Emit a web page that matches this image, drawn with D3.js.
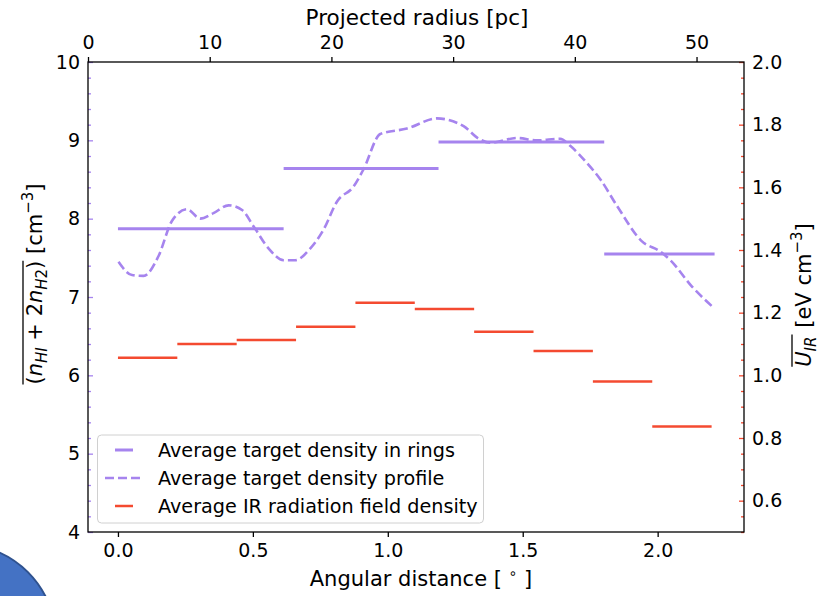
<!DOCTYPE html>
<html>
<head>
<meta charset="utf-8">
<script src="https://cdn.jsdelivr.net/npm/d3@7"></script>
<style>
  body { margin: 0; background: #fff; }
  svg { display: block; font-family: "DejaVu Sans", sans-serif; }
  text { white-space: pre; }
</style>
</head>
<body>
<div id="chart"></div>
<script>
// ring averages of target density (left axis)
const ringEdges = [0, 0.614, 1.188, 1.802, 2.211]
const ringDensity = [7.87, 8.64, 8.98, 7.55]

// IR radiation field per bin (right axis)
const irEdges = [0, 0.22, 0.44, 0.66, 0.88, 1.10, 1.32, 1.54, 1.76, 1.98, 2.20]
const irDensity = [1.056, 1.100, 1.113, 1.155, 1.232, 1.212, 1.139, 1.078, 0.980, 0.837]

// density profile
const profX = [0.002, 0.052, 0.095, 0.150, 0.200, 0.256, 0.305, 0.354, 0.410, 0.460, 0.503, 0.558,
    0.614, 0.657, 0.713, 0.762, 0.812, 0.873, 0.910, 0.972, 1.071, 1.182, 1.281, 1.337, 1.380,
    1.479, 1.553, 1.639, 1.676, 1.738, 1.788, 1.850, 1.942, 2.010, 2.047, 2.128, 2.202]
const profY = [7.45, 7.28, 7.27, 7.52, 7.97, 8.12, 8.00, 8.07, 8.17, 8.11, 7.90, 7.62,
    7.47, 7.47, 7.62, 7.86, 8.22, 8.41, 8.63, 9.08, 9.15, 9.28, 9.18, 9.02, 8.97,
    9.03, 9.00, 9.02, 8.93, 8.71, 8.50, 8.16, 7.71, 7.58, 7.47, 7.13, 6.88]

const xTicks = [0, 0.5, 1.0, 1.5, 2.0]
const pcTicks = [0, 10, 20, 30, 40, 50]
const leftTicks = [4, 5, 6, 7, 8, 9, 10]
const rightTicks = [0.6, 0.8, 1.0, 1.2, 1.4, 1.6, 1.8, 2.0]

const legendLabels = ['Average target density in rings', 'Average target density profile', 'Average IR radiation field density']

const W = 822, H = 596
const L = 88, R = 744, T = 62, B = 532
const purple = '#a684ee'
const red = '#f44a30'
const fs = 19
const titleFs = 21

const svg = d3.select('#chart').append('svg')
    .attr('width', W)
    .attr('height', H)

// blue slide shape peeking in at bottom-left
svg.append('circle')
    .attr('cx', -40).attr('cy', 640).attr('r', 96)
    .attr('fill', '#4472c4')
    .attr('stroke', '#2f528f')
    .attr('stroke-width', 2)

const x = d3.scaleLinear().domain([-0.111, 2.32]).range([L, R])
const xTop = d3.scaleLinear().domain([0, 53.9]).range([L, R])
const yL = d3.scaleLinear().domain([4, 10]).range([B, T])
const yR = d3.scaleLinear().domain([0.5, 2.0]).range([B, T])

const styleAxis = (g, col) => {
    g.select('.domain').remove()
    g.selectAll('line').attr('stroke', col).attr('stroke-width', 1.3)
    g.selectAll('text').attr('fill', '#000').style('font-size', fs + 'px')
        .style('font-family', '"DejaVu Sans", sans-serif')
}

// bottom axis
svg.append('g')
    .attr('transform', 'translate(0,' + B + ')')
    .call(d3.axisBottom(x).tickValues(xTicks).tickFormat(d3.format('.1f')).tickSize(5).tickPadding(7))
    .call(g => styleAxis(g, '#000'))

// top axis
svg.append('g')
    .attr('transform', 'translate(0,' + T + ')')
    .call(d3.axisTop(xTop).tickValues(pcTicks).tickFormat(d3.format('d')).tickSize(5).tickPadding(8))
    .call(g => styleAxis(g, '#000'))

// left axis, ticks inside
svg.append('g')
    .attr('transform', 'translate(' + L + ',0)')
    .call(d3.axisLeft(yL).tickValues(leftTicks).tickFormat(d3.format('d')).tickSize(-5).tickPadding(8))
    .call(g => styleAxis(g, purple))
svg.append('g')
    .attr('transform', 'translate(' + L + ',0)')
    .call(d3.axisLeft(yL).tickValues(d3.range(4, 10.01, 0.2).filter(v => Math.abs(v - Math.round(v)) > 0.01)).tickFormat('').tickSize(-3))
    .call(g => styleAxis(g, purple))

// right axis, ticks inside
svg.append('g')
    .attr('transform', 'translate(' + R + ',0)')
    .call(d3.axisRight(yR).tickValues(rightTicks).tickFormat(d3.format('.1f')).tickSize(-5).tickPadding(8))
    .call(g => styleAxis(g, red))
svg.append('g')
    .attr('transform', 'translate(' + R + ',0)')
    .call(d3.axisRight(yR).tickValues(d3.range(0.5, 2.001, 0.05).filter(v => Math.abs(v * 5 - Math.round(v * 5)) > 0.01)).tickFormat('').tickSize(-3))
    .call(g => styleAxis(g, red))

// frame
svg.append('rect')
    .attr('x', L).attr('y', T)
    .attr('width', R - L).attr('height', B - T)
    .attr('fill', 'none')
    .attr('stroke', '#000')
    .attr('stroke-width', 1.3)

// ring averages
svg.append('g').selectAll('line')
    .data(ringDensity)
    .enter()
    .append('line')
    .attr('x1', (d, i) => x(ringEdges[i]))
    .attr('x2', (d, i) => x(ringEdges[i + 1]))
    .attr('y1', d => yL(d))
    .attr('y2', d => yL(d))
    .attr('stroke', purple)
    .attr('stroke-width', 3)

// profile
const profile = profX.map((v, i) => [v, profY[i]])
svg.append('path')
    .datum(profile)
    .attr('d', d3.line().x(d => x(d[0])).y(d => yL(d[1])).curve(d3.curveMonotoneX))
    .attr('fill', 'none')
    .attr('stroke', purple)
    .attr('stroke-width', 2.6)
    .attr('stroke-dasharray', '9,4')

// IR bins
svg.append('g').selectAll('line')
    .data(irDensity)
    .enter()
    .append('line')
    .attr('x1', (d, i) => x(irEdges[i]))
    .attr('x2', (d, i) => x(irEdges[i + 1]))
    .attr('y1', d => yR(d))
    .attr('y2', d => yR(d))
    .attr('stroke', red)
    .attr('stroke-width', 2.5)

// legend
const leg = svg.append('g')
leg.append('rect')
    .attr('x', 97.5).attr('y', 435)
    .attr('width', 386).attr('height', 88)
    .attr('rx', 4)
    .attr('fill', 'rgba(255,255,255,0.8)')
    .attr('stroke', '#d0d0d0')
    .attr('stroke-width', 1)
const legRows = [450, 478, 506]
const legSamples = [
    { x1: 115, x2: 133, col: purple, dash: null, w: 3 },
    { x1: 105, x2: 143, col: purple, dash: '9,4', w: 2.6 },
    { x1: 115, x2: 133, col: red, dash: null, w: 2.5 }
]
legSamples.forEach((s, i) => {
    leg.append('line')
        .attr('x1', s.x1).attr('x2', s.x2)
        .attr('y1', legRows[i]).attr('y2', legRows[i])
        .attr('stroke', s.col)
        .attr('stroke-width', s.w)
        .attr('stroke-dasharray', s.dash)
    leg.append('text')
        .attr('x', 158).attr('y', legRows[i])
        .attr('dy', '0.36em')
        .style('font-size', '19.2px')
        .text(legendLabels[i])
})

// axis titles
svg.append('text')
    .attr('x', (L + R) / 2 + 1).attr('y', 25)
    .attr('text-anchor', 'middle')
    .style('font-size', '21.5px')
    .text('Projected radius [pc]')

const bt = svg.append('text')
    .attr('x', (L + R) / 2 + 5).attr('y', 586)
    .attr('text-anchor', 'middle')
    .style('font-size', titleFs + 'px')
bt.append('tspan').text('Angular distance [ ')
bt.append('tspan').attr('dy', -8).style('font-size', '14px').text('∘')
bt.append('tspan').attr('dy', 8).text(' ]')

const addPieces = (text, pieces) => {
    pieces.forEach(p => {
        const t = text.append('tspan').text(p.t)
        if (p.it) t.style('font-style', 'italic')
        if (p.dy) t.attr('dy', p.dy)
        if (p.fs) t.style('font-size', p.fs + 'px')
    })
}

// rotated label with overline over the first part
const overLabel = (cx, cy, over, rest) => {
    const g = svg.append('g')
        .attr('transform', 'translate(' + cx + ',' + cy + ') rotate(-90)')
    const t1 = g.append('text').style('font-size', titleFs + 'px')
    addPieces(t1, over)
    const t2 = g.append('text').style('font-size', titleFs + 'px')
    addPieces(t2, rest)
    const w1 = t1.node().getComputedTextLength()
    const w2 = t2.node().getComputedTextLength()
    const x0 = -(w1 + w2) / 2
    t1.attr('x', x0)
    t2.attr('x', x0 + w1)
    const bb = t1.node().getBBox()
    g.append('line')
        .attr('x1', x0).attr('x2', x0 + w1)
        .attr('y1', bb.y).attr('y2', bb.y)
        .attr('stroke', '#000')
        .attr('stroke-width', 1.3)
}

overLabel(42, 284, [
    { t: '(' }, { t: 'n', it: true }, { t: 'HI', it: true, dy: 5, fs: 15 },
    { t: '\u00a0+\u00a02', dy: -5 }, { t: 'n', it: true }, { t: 'H', it: true, dy: 5, fs: 15 },
    { t: '2', fs: 15 }, { t: ')', dy: -5 }
], [
    { t: '\u00a0[cm' }, { t: '−3', dy: -9, fs: 15 }, { t: ']', dy: 9 }
])

overLabel(811, 295, [
    { t: 'U', it: true }, { t: 'IR', it: true, dy: 5, fs: 15 }, { t: '\u200a', dy: -5 }
], [
    { t: '\u00a0[eV\u00a0cm' }, { t: '−3', dy: -9, fs: 15 }, { t: ']', dy: 9 }
])
</script>
</body>
</html>
